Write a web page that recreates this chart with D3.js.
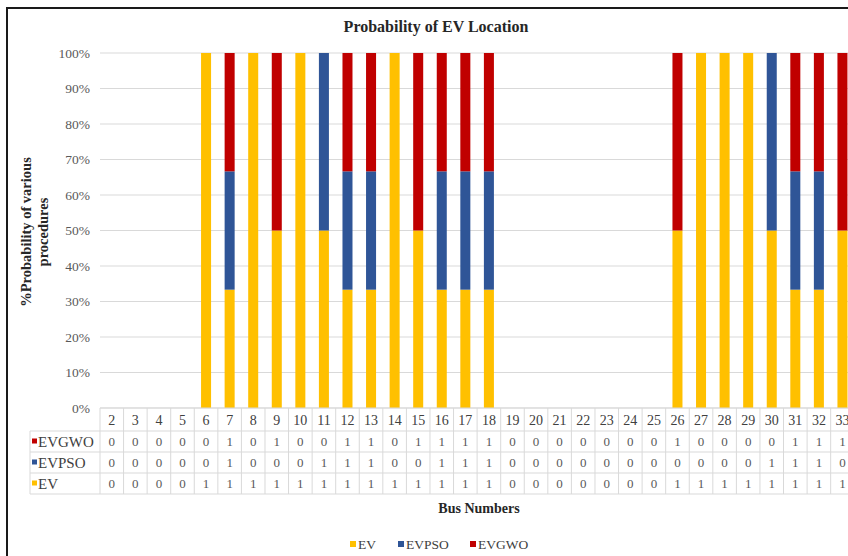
<!DOCTYPE html>
<html><head><meta charset="utf-8">
<script src="https://cdn.jsdelivr.net/npm/d3@7"></script>
<style>body{margin:0;background:#fff}svg{display:block}text{font-family:"Liberation Serif","Times New Roman",serif}</style>
</head><body><svg id="c" width="848" height="556"></svg>
<script>
const categories = ["2","3","4","5","6","7","8","9","10","11","12","13","14","15","16","17","18","19","20","21","22","23","24","25","26","27","28","29","30","31","32","33"];
const EV    = [0,0,0,0,1,1,1,1,1,1,1,1,1,1,1,1,1,0,0,0,0,0,0,0,1,1,1,1,1,1,1,1];
const EVPSO = [0,0,0,0,0,1,0,0,0,1,1,1,0,0,1,1,1,0,0,0,0,0,0,0,0,0,0,0,1,1,1,0];
const EVGWO = [0,0,0,0,0,1,0,1,0,0,1,1,0,1,1,1,1,0,0,0,0,0,0,0,1,0,0,0,0,1,1,1];
const seriesNames = ["EV","EVPSO","EVGWO"];
const yTicks = [0,0.1,0.2,0.3,0.4,0.5,0.6,0.7,0.8,0.9,1];
const colors = {EV:"#FFC000", EVPSO:"#2F5597", EVGWO:"#C00000"};

const svg = d3.select("#c");
svg.append("rect").attr("width",848).attr("height",556).attr("fill","#fff");
svg.append("rect").attr("x",7).attr("y",8).attr("width",900).attr("height",600)
  .attr("fill","none").attr("stroke","#1a1a1a").attr("stroke-width",2);

const x = d3.scaleBand().domain(categories).range([100, 100 + 32*23.57]).paddingInner(0.575).paddingOuter(0.2875);
const y = d3.scaleLinear().domain([0,1]).range([408, 53]);

// gridlines
svg.append("g").selectAll("line").data(yTicks).join("line")
  .attr("x1",100).attr("x2",860).attr("y1",d=>y(d)).attr("y2",d=>y(d))
  .attr("stroke","#d9d9d9").attr("stroke-width",1);

// y axis labels
const yAxis = d3.axisLeft(y).tickValues(yTicks).tickFormat(d3.format(".0%")).tickSize(0).tickPadding(10);
const ga = svg.append("g").attr("transform","translate(100,0)").call(yAxis);
ga.select(".domain").remove();
ga.selectAll("text").attr("font-size",13.5).attr("fill","#595959");

// stacked data
const rows = categories.map((c,i)=>({cat:c, EV:EV[i], EVPSO:EVPSO[i], EVGWO:EVGWO[i]}));
const stack = d3.stack().keys(seriesNames).offset(d3.stackOffsetExpand);
const stacked = stack(rows);
svg.append("g").selectAll("g").data(stacked).join("g").attr("fill",d=>colors[d.key])
  .selectAll("rect").data(d=>d.filter(p=>!isNaN(p[1]) && p[1]>p[0])).join("rect")
  .attr("x",d=>x(d.data.cat)).attr("width",x.bandwidth())
  .attr("y",d=>y(d[1])).attr("height",d=>y(d[0])-y(d[1]));

// data table
const tblTop = 408, hdrH = 23, rowH = 21;
const tableRows = [["EVGWO",EVGWO],["EVPSO",EVPSO],["EV",EV]];
const tg = svg.append("g");
const step = x.step();
const xLeft = 100, xRight = 100 + 32*step;
const hLines = [tblTop, tblTop+hdrH, tblTop+hdrH+rowH, tblTop+hdrH+2*rowH, tblTop+hdrH+3*rowH];
tg.selectAll("line.h").data(hLines).join("line").attr("class","h")
  .attr("x1",(d,i)=>i===0?xLeft:30).attr("x2",xRight).attr("y1",d=>d).attr("y2",d=>d)
  .attr("stroke","#d9d9d9");
const vx = d3.range(33).map(i=>xLeft + i*step);
tg.selectAll("line.v").data(vx).join("line").attr("class","v")
  .attr("x1",d=>d).attr("x2",d=>d).attr("y1",tblTop).attr("y2",tblTop+hdrH+3*rowH)
  .attr("stroke","#d9d9d9");
tg.append("line").attr("x1",30).attr("x2",30).attr("y1",tblTop+hdrH).attr("y2",tblTop+hdrH+3*rowH).attr("stroke","#d9d9d9");
tg.selectAll("text.hd").data(categories).join("text").attr("class","hd")
  .attr("x",d=>x(d)+x.bandwidth()/2).attr("y",tblTop+hdrH/2+5)
  .attr("text-anchor","middle").attr("font-size",14).attr("fill","#404040").text(d=>d);
tableRows.forEach(([name,vals],r)=>{
  const cy = tblTop+hdrH+r*rowH+rowH/2;
  tg.append("rect").attr("x",32).attr("y",cy-3).attr("width",5).attr("height",5).attr("fill",colors[name]);
  tg.append("text").attr("x",38).attr("y",cy+5).attr("font-size",15).attr("fill","#404040").text(name);
  tg.selectAll("text.v"+r).data(vals).join("text").attr("class","v"+r)
    .attr("x",(d,i)=>x(categories[i])+x.bandwidth()/2).attr("y",cy+4.5)
    .attr("text-anchor","middle").attr("font-size",13).attr("fill","#595959").text(d=>d);
});

// title
svg.append("text").attr("x",436).attr("y",32).attr("text-anchor","middle")
  .attr("font-size",16).attr("font-weight","bold").attr("fill","#262626").text("Probability of EV Location");
// axis titles
svg.append("text").attr("x",479).attr("y",513).attr("text-anchor","middle")
  .attr("font-size",14).attr("font-weight","bold").attr("fill","#262626").text("Bus Numbers");
const yt = svg.append("text").attr("transform","translate(31,232) rotate(-90)").attr("text-anchor","middle")
  .attr("font-size",14.5).attr("font-weight","bold").attr("fill","#262626");
yt.append("tspan").attr("x",0).attr("dy",0).text("%Probability of various");
yt.append("tspan").attr("x",0).attr("dy",17).text("procedures");

// legend
const legX = [350, 398, 470];
const lg = svg.append("g");
seriesNames.forEach((n,i)=>{
  lg.append("rect").attr("x",legX[i]).attr("y",541).attr("width",6).attr("height",6).attr("fill",colors[n]);
  lg.append("text").attr("x",legX[i]+8).attr("y",549).attr("font-size",13.5).attr("fill","#404040").text(n);
});
</script></body></html>
